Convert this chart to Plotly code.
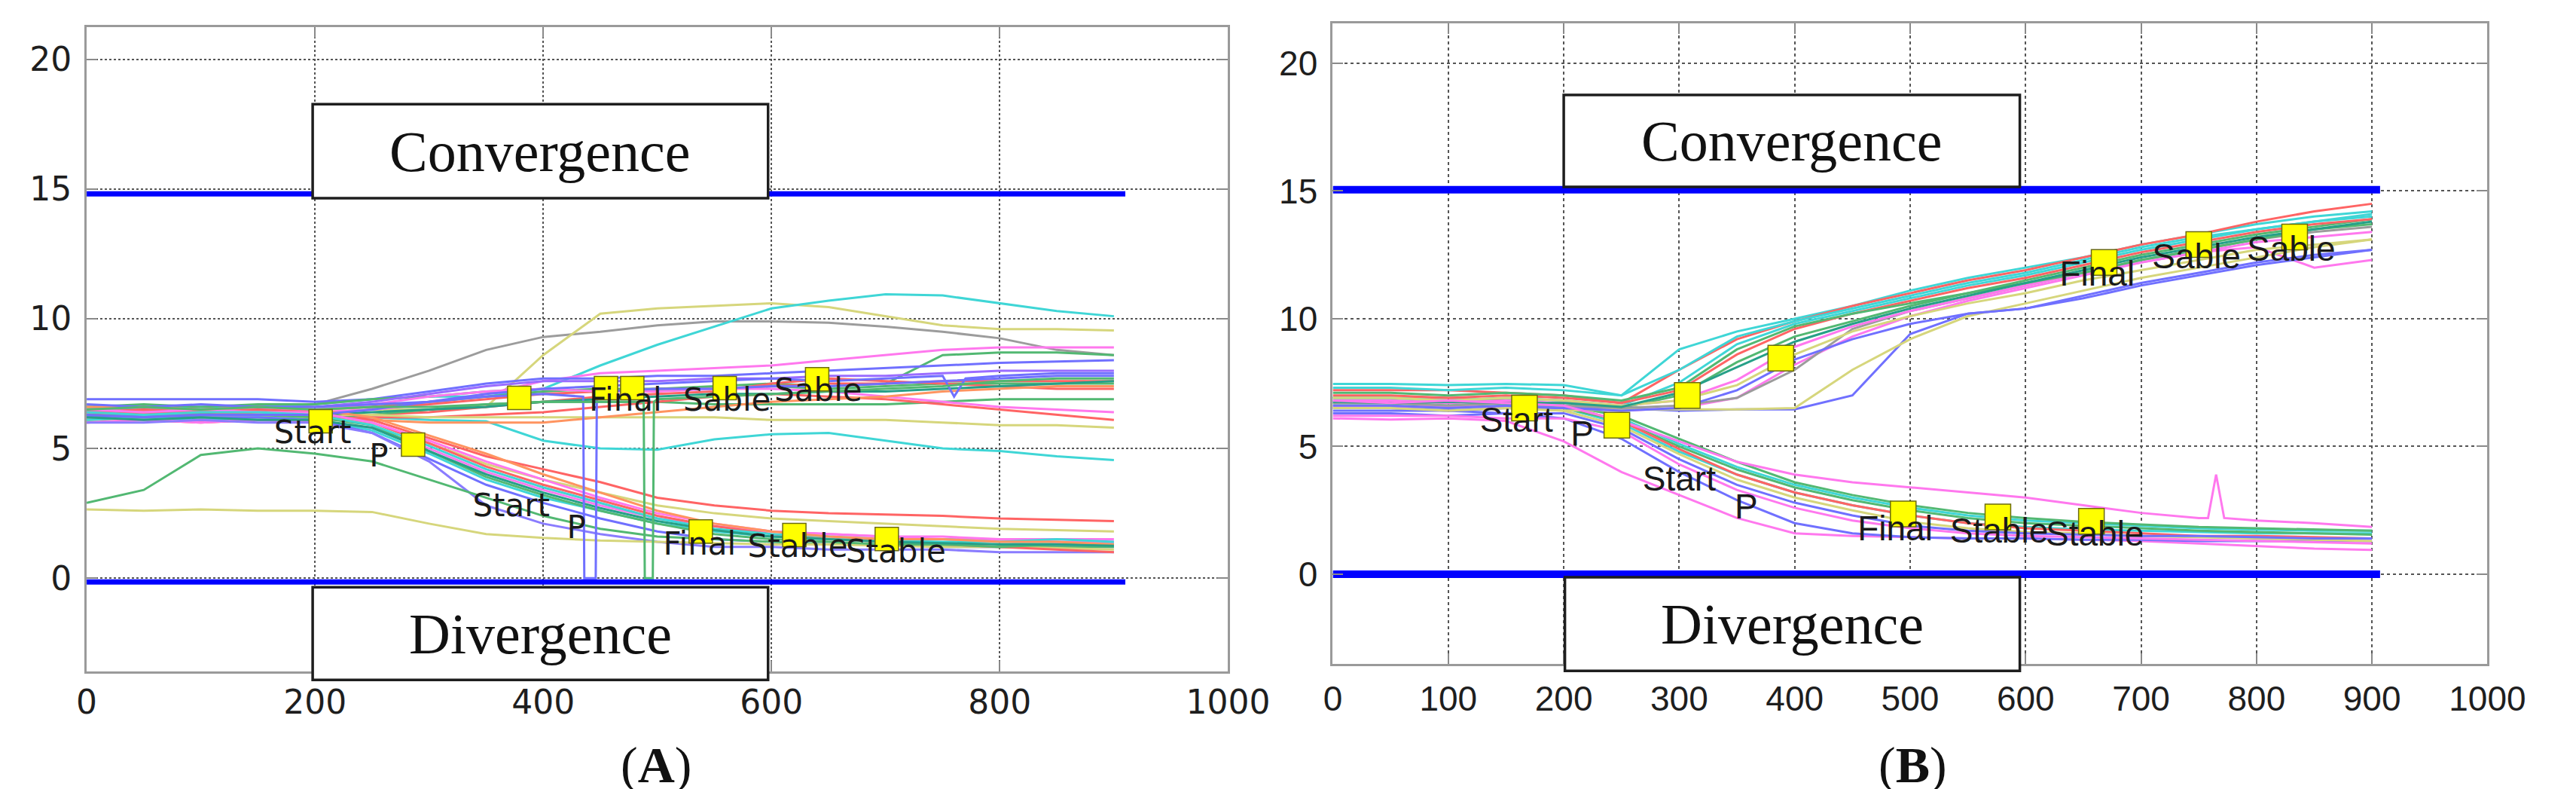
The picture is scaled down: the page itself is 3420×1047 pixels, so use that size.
import plotly.graph_objects as go

# ---------------- data: panel A ----------------
XA = [0, 50, 100, 150, 200, 250, 300, 350, 400, 450, 500, 550, 600, 650, 700, 750, 800, 850, 900]

# upper (convergence) branch, panel A
A_GRAY      = [6.5, 6.4, 6.5, 6.5, 6.7, 7.3, 8.0, 8.8, 9.3, 9.5, 9.75, 9.9, 9.9, 9.85, 9.7, 9.5, 9.25, 8.8, 8.6]
A_YEL_HI    = [6.4, 6.5, 6.4, 6.5, 6.4, 6.5, 6.5, 6.6, 8.6, 10.2, 10.4, 10.5, 10.6, 10.45, 10.1, 9.75, 9.6, 9.6, 9.55]
A_CYAN_HI   = [6.6, 6.5, 6.6, 6.6, 6.7, 6.9, 7.0, 7.0, 7.3, 8.2, 9.0, 9.7, 10.4, 10.7, 10.95, 10.9, 10.6, 10.3, 10.1]
A_CYAN_LO   = [6.2, 6.1, 6.2, 6.2, 6.1, 6.2, 6.1, 6.05, 5.3, 5.0, 4.95, 5.35, 5.55, 5.6, 5.3, 5.0, 4.9, 4.7, 4.55]
A_PINK_HI   = [6.3, 6.4, 6.3, 6.5, 6.4, 6.5, 6.7, 7.1, 7.6, 7.9, 8.0, 8.1, 8.2, 8.4, 8.6, 8.8, 8.9, 8.9, 8.9]
A_GREEN_J   = [6.4, 6.5, 6.4, 6.4, 6.5, 6.6, 6.8, 7.0, 7.2, 7.3, 7.3, 7.4, 7.5, 7.4, 7.5, 8.6, 8.7, 8.7, 8.6]
A_BLUE_TOP  = [6.9, 6.9, 6.9, 6.9, 6.8, 6.9, 7.2, 7.5, 7.7, 7.7, 7.8, 7.8, 7.9, 8.0, 8.1, 8.2, 8.3, 8.35, 8.4]
A_RED_1     = [6.5, 6.6, 6.5, 6.6, 6.5, 6.6, 6.7, 6.9, 7.1, 7.2, 7.3, 7.3, 7.4, 7.5, 7.5, 7.6, 7.6, 7.6, 7.6]
A_GREEN_2   = [6.6, 6.7, 6.6, 6.7, 6.7, 6.9, 7.0, 7.2, 7.3, 7.2, 7.3, 7.3, 7.4, 7.3, 7.4, 7.5, 7.5, 7.5, 7.5]
A_RED_2     = [6.2, 6.3, 6.2, 6.3, 6.2, 6.3, 6.4, 6.6, 6.8, 7.0, 7.1, 7.2, 7.5, 7.7, 7.6, 7.5, 7.4, 7.3, 7.3]
A_GREEN_3   = [6.1, 6.2, 6.1, 6.2, 6.2, 6.3, 6.5, 6.7, 6.8, 6.8, 6.8, 6.7, 6.7, 6.7, 6.7, 6.8, 6.9, 6.9, 6.9]
A_PINK_2    = [6.4, 6.5, 6.4, 6.5, 6.5, 6.7, 7.0, 7.2, 7.3, 7.2, 7.2, 7.3, 7.3, 7.2, 7.0, 6.8, 6.6, 6.5, 6.4]
A_RED_3     = [6.0, 6.1, 6.0, 6.1, 6.1, 6.2, 6.2, 6.3, 6.4, 6.6, 6.8, 7.0, 7.1, 7.0, 6.9, 6.7, 6.5, 6.3, 6.1]
A_YEL_LO    = [6.2, 6.3, 6.2, 6.2, 6.3, 6.3, 6.2, 6.2, 6.2, 6.2, 6.2, 6.2, 6.1, 6.1, 6.1, 6.0, 5.9, 5.9, 5.8]
A_ORANGE    = [6.1, 6.2, 6.1, 6.2, 6.1, 6.1, 6.0, 6.0, 6.0, 6.2, 6.4, 6.6, 6.8, 6.9, 7.0, 7.2, 7.3, 7.4, 7.4]
A_TEAL      = [6.3, 6.3, 6.4, 6.3, 6.3, 6.4, 6.5, 6.6, 6.8, 6.9, 7.0, 7.1, 7.1, 7.2, 7.2, 7.3, 7.4, 7.5, 7.6]
A_PURPLE_HI = [6.5, 6.6, 6.5, 6.6, 6.6, 6.8, 7.1, 7.4, 7.6, 7.6, 7.6, 7.7, 7.7, 7.8, 7.8, 7.9, 8.0, 8.0, 8.0]

A_BLUE_DIP_X = [0, 50, 100, 150, 200, 250, 300, 350, 400, 450, 500, 550, 600, 650, 700, 750, 760, 770, 800, 850, 900]
A_BLUE_DIP_Y = [6.3, 6.2, 6.3, 6.3, 6.3, 6.5, 6.8, 7.1, 7.3, 7.4, 7.5, 7.6, 7.7, 7.6, 7.7, 7.8, 7.0, 7.7, 7.8, 7.9, 7.9]
A_SPIKE_BLUE_X = [0, 50, 100, 150, 200, 250, 300, 350, 400, 435, 436, 446, 447, 450, 500, 550, 600, 650, 700, 750, 800, 850, 900]
A_SPIKE_BLUE_Y = [6.7, 6.6, 6.7, 6.6, 6.6, 6.7, 6.8, 7.0, 7.1, 7.0, 0.0, 0.0, 7.1, 7.2, 7.3, 7.3, 7.4, 7.4, 7.5, 7.6, 7.7, 7.8, 7.8]
A_SPIKE_GREEN_X = [0, 50, 100, 150, 200, 250, 300, 350, 400, 450, 488, 489, 496, 497, 500, 550, 600, 650, 700, 750, 800, 850, 900]
A_SPIKE_GREEN_Y = [6.5, 6.6, 6.5, 6.6, 6.5, 6.6, 6.6, 6.7, 6.8, 6.8, 6.8, 0.0, 0.0, 6.8, 6.9, 7.0, 7.1, 7.2, 7.3, 7.4, 7.6, 7.7, 7.7]

# lower (divergence) branch, panel A
A_L_RED    = [6.3, 6.4, 6.3, 6.4, 6.3, 6.1, 5.4, 4.7, 4.2, 3.7, 3.1, 2.8, 2.6, 2.5, 2.45, 2.4, 2.3, 2.25, 2.2]
A_L_YEL    = [6.2, 6.3, 6.2, 6.2, 6.2, 6.0, 5.2, 4.4, 3.8, 3.3, 2.8, 2.5, 2.3, 2.2, 2.1, 2.0, 1.9, 1.85, 1.8]
A_L_PINK   = [6.0, 6.1, 6.0, 6.1, 6.0, 5.8, 5.0, 4.1, 3.4, 2.8, 2.3, 2.0, 1.8, 1.7, 1.6, 1.6, 1.5, 1.5, 1.5]
A_L_CYAN   = [6.1, 6.2, 6.1, 6.2, 6.1, 5.7, 4.8, 3.8, 3.1, 2.6, 2.1, 1.8, 1.6, 1.5, 1.45, 1.4, 1.4, 1.35, 1.35]
A_L_BLUE   = [6.2, 6.3, 6.2, 6.2, 6.1, 5.6, 4.6, 3.6, 2.9, 2.3, 1.8, 1.5, 1.4, 1.3, 1.3, 1.2, 1.2, 1.2, 1.2]
A_L_PURPLE = [6.0, 6.0, 6.1, 6.0, 6.0, 5.6, 4.5, 2.8, 2.1, 1.7, 1.4, 1.2, 1.2, 1.1, 1.1, 1.1, 1.0, 1.0, 1.0]
A_L_GREEN  = [2.9, 3.4, 4.75, 5.0, 4.8, 4.5, 3.8, 3.1, 2.4, 1.9, 1.6, 1.5, 1.4, 1.3, 1.3, 1.25, 1.2, 1.2, 1.2]
A_L_YEL2   = [2.65, 2.6, 2.65, 2.6, 2.6, 2.55, 2.1, 1.7, 1.55, 1.45, 1.4, 1.35, 1.3, 1.3, 1.25, 1.2, 1.2, 1.15, 1.1]
A_L_RED2   = [6.4, 6.5, 6.4, 6.5, 6.4, 6.0, 5.2, 4.3, 3.6, 3.0, 2.4, 2.0, 1.7, 1.5, 1.4, 1.3, 1.2, 1.1, 1.0]
A_L_GREEN2 = [6.3, 6.2, 6.3, 6.3, 6.2, 5.9, 4.9, 3.9, 3.2, 2.6, 2.1, 1.7, 1.5, 1.4, 1.3, 1.3, 1.2, 1.3, 1.3]
A_L_MAG    = [6.5, 6.4, 6.5, 6.4, 6.4, 6.0, 5.3, 4.5, 3.8, 3.1, 2.5, 2.1, 1.8, 1.7, 1.6, 1.5, 1.5, 1.4, 1.4]
A_L_CYAN2  = [6.4, 6.3, 6.4, 6.4, 6.3, 5.9, 5.1, 4.2, 3.5, 2.9, 2.3, 1.9, 1.7, 1.6, 1.5, 1.5, 1.4, 1.5, 1.4]
A_L_ORANGE = [6.6, 6.6, 6.5, 6.6, 6.5, 6.2, 5.5, 4.8, 4.0, 3.3, 2.6, 2.1, 1.8, 1.6, 1.5, 1.5, 1.4, 1.4, 1.3]
A_L_TEAL   = [6.2, 6.1, 6.2, 6.1, 6.1, 5.8, 4.9, 4.0, 3.3, 2.7, 2.2, 1.85, 1.6, 1.5, 1.4, 1.35, 1.3, 1.3, 1.25]

A_LIMITS = [14.82, -0.15]          # the two blue threshold lines
A_LIMIT_X = [0, 910]

A_MARK_X = [205, 286, 379, 455, 478, 559, 640, 538, 620, 701]
A_MARK_Y = [6.05, 5.15, 6.95, 7.33, 7.33, 7.33, 7.67, 1.8, 1.66, 1.51]
A_LABELS  = ["Start", "P", "Final", "Sable", "Sable", "Start", "P", "Final", "Stable", "Stable"]
A_LABEL_X = [198, 256, 472, 561, 641, 372, 429, 537, 623, 709]
A_LABEL_Y = [5.5, 4.62, 6.75, 6.75, 7.15, 2.68, 1.86, 1.22, 1.13, 0.93]

# ---------------- data: panel B ----------------
XB = [0, 50, 100, 150, 200, 250, 300, 350, 400, 450, 500, 550, 600, 650, 700, 750, 800, 850, 900]

B_U_CYAN1  = [7.45, 7.45, 7.4, 7.45, 7.4, 7.0, 8.8, 9.5, 10.0, 10.5, 11.1, 11.6, 12.0, 12.4, 12.9, 13.3, 13.7, 14.0, 14.2]
B_U_RED1   = [7.2, 7.2, 7.2, 7.1, 7.0, 6.7, 8.0, 9.2, 9.9, 10.5, 11.0, 11.5, 11.9, 12.4, 12.9, 13.3, 13.8, 14.2, 14.5]
B_U_CYAN2  = [6.9, 6.9, 6.8, 6.9, 6.8, 6.6, 7.5, 9.0, 9.8, 10.3, 10.8, 11.3, 11.7, 12.2, 12.7, 13.1, 13.5, 13.8, 14.1]
B_U_GREEN1 = [6.7, 6.7, 6.6, 6.7, 6.6, 6.5, 7.0, 8.3, 9.3, 9.9, 10.5, 11.0, 11.5, 12.0, 12.5, 12.9, 13.3, 13.6, 13.9]
B_U_PINK1  = [6.6, 6.5, 6.6, 6.5, 6.5, 6.4, 6.5, 6.9, 8.2, 9.3, 10.1, 10.7, 11.2, 11.7, 12.2, 12.6, 12.8, 12.0, 12.3]
B_U_BLUE1  = [6.5, 6.5, 6.4, 6.5, 6.5, 6.5, 6.4, 6.45, 6.45, 7.0, 9.4, 10.2, 10.4, 10.8, 11.3, 11.7, 12.1, 12.4, 12.7]
B_U_YEL1   = [6.5, 6.5, 6.4, 6.5, 6.4, 6.45, 6.45, 6.45, 6.5, 8.0, 9.2, 10.1, 10.6, 11.1, 11.6, 12.0, 12.4, 12.8, 13.1]
B_U_GRAY   = [6.7, 6.7, 6.6, 6.7, 6.6, 6.5, 6.6, 6.9, 8.0, 9.6, 10.3, 10.8, 11.3, 11.8, 12.3, 12.7, 13.1, 13.4, 13.6]
B_U_RED2   = [7.0, 7.0, 6.9, 7.0, 6.9, 6.7, 7.2, 8.6, 9.6, 10.2, 10.7, 11.2, 11.6, 12.1, 12.6, 13.0, 13.4, 13.7, 13.9]
B_U_MAG    = [6.8, 6.8, 6.7, 6.8, 6.7, 6.6, 6.8, 7.6, 8.9, 9.7, 10.3, 10.8, 11.3, 11.8, 12.2, 12.6, 13.0, 13.2, 13.4]
B_U_BLUE2  = [6.6, 6.6, 6.5, 6.6, 6.5, 6.4, 6.5, 7.2, 8.4, 9.2, 9.8, 10.2, 10.4, 10.9, 11.4, 11.8, 12.2, 12.5, 12.7]
B_U_YEL2   = [6.9, 6.9, 6.8, 6.9, 6.8, 6.6, 6.8, 7.4, 8.6, 9.5, 10.1, 10.6, 11.0, 11.5, 11.9, 12.3, 12.7, 12.9, 13.1]
B_U_GREEN2 = [7.1, 7.1, 7.0, 7.1, 7.0, 6.8, 7.3, 8.8, 9.7, 10.2, 10.6, 11.0, 11.4, 11.8, 12.3, 12.7, 13.1, 13.5, 13.7]
B_U_CYAN3  = [7.3, 7.3, 7.2, 7.3, 7.2, 7.0, 8.0, 9.3, 9.9, 10.4, 10.9, 11.4, 11.8, 12.3, 12.8, 13.2, 13.5, 13.8, 14.0]
B_U_TEAL   = [6.75, 6.7, 6.75, 6.7, 6.7, 6.55, 7.1, 8.1, 9.1, 9.8, 10.4, 10.9, 11.4, 11.9, 12.4, 12.8, 13.2, 13.5, 13.8]

B_L_PINK1  = [6.1, 6.05, 6.1, 6.0, 5.2, 4.0, 3.1, 2.2, 1.6, 1.5, 1.45, 1.4, 1.4, 1.35, 1.3, 1.2, 1.1, 1.0, 0.95]
B_L_BLUE1  = [6.3, 6.3, 6.2, 6.3, 6.1, 5.3, 4.0, 2.9, 2.0, 1.6, 1.45, 1.4, 1.4, 1.35, 1.35, 1.3, 1.3, 1.3, 1.3]
B_L_CYAN1  = [6.7, 6.7, 6.6, 6.7, 6.5, 5.9, 4.8, 3.9, 3.2, 2.7, 2.3, 2.0, 1.85, 1.75, 1.7, 1.65, 1.6, 1.6, 1.6]
B_L_GREEN1 = [6.6, 6.6, 6.5, 6.6, 6.5, 6.0, 5.0, 4.1, 3.4, 2.9, 2.5, 2.2, 2.0, 1.9, 1.8, 1.7, 1.65, 1.6, 1.55]
B_L_RED    = [6.9, 6.9, 6.9, 6.8, 6.6, 6.0, 4.9, 3.9, 3.2, 2.7, 2.3, 2.0, 1.8, 1.7, 1.6, 1.5, 1.5, 1.45, 1.4]
B_L_YEL    = [6.5, 6.5, 6.4, 6.5, 6.4, 5.8, 4.7, 3.7, 3.0, 2.5, 2.05, 1.8, 1.65, 1.6, 1.5, 1.45, 1.4, 1.35, 1.3]
B_L_BLUE2  = [6.4, 6.4, 6.4, 6.3, 6.3, 5.7, 4.5, 3.5, 2.8, 2.3, 1.9, 1.7, 1.6, 1.55, 1.5, 1.5, 1.45, 1.4, 1.4]
B_L_CYAN2  = [6.9, 6.9, 6.8, 6.9, 6.8, 6.1, 5.1, 4.2, 3.5, 3.0, 2.6, 2.3, 2.1, 2.0, 1.9, 1.8, 1.75, 1.7, 1.7]
B_L_MAG    = [6.2, 6.2, 6.2, 6.1, 6.1, 5.6, 4.3, 3.3, 2.6, 2.1, 1.8, 1.6, 1.5, 1.45, 1.4, 1.35, 1.3, 1.25, 1.2]
B_L_GREEN2 = [6.8, 6.8, 6.7, 6.8, 6.6, 6.2, 5.3, 4.4, 3.6, 3.1, 2.7, 2.4, 2.2, 2.05, 1.95, 1.85, 1.8, 1.75, 1.7]
B_SPIKE_X = [0, 50, 100, 150, 200, 250, 300, 350, 400, 450, 500, 550, 600, 650, 700, 750, 758, 765, 772, 800, 850, 900]
B_SPIKE_Y = [6.8, 6.7, 6.8, 6.7, 6.6, 6.0, 5.2, 4.4, 3.9, 3.6, 3.4, 3.2, 3.0, 2.7, 2.4, 2.2, 2.2, 3.9, 2.2, 2.1, 2.0, 1.85]

B_LIMITS = [15.05, 0.0]
B_LIMIT_X = [0, 907]

B_MARK_X = [166, 246, 307, 388, 668, 750, 833, 494, 576, 657]
B_MARK_Y = [6.5, 5.83, 7.0, 8.46, 12.2, 12.9, 13.2, 2.36, 2.24, 2.07]
B_LABELS  = ["Start", "P", "Final", "Sable", "Sable", "Start", "P", "Final", "Stable", "Stable"]
B_LABEL_X = [159, 216, 662, 748, 830, 300, 358, 487, 577, 660]
B_LABEL_Y = [5.92, 5.38, 11.65, 12.3, 12.6, 3.61, 2.51, 1.68, 1.57, 1.45]

TICKS_A = [0, 200, 400, 600, 800, 1000]
TICKS_B = [0, 100, 200, 300, 400, 500, 600, 700, 800, 900, 1000]
TICKS_Y = [0, 5, 10, 15, 20]

# ---------------- styling ----------------
RED, PINK, BLUE, GREEN = "#ff6464", "#ff78ee", "#7070ff", "#52b872"
CYAN, YEL, GRAY, ORANGE, TEAL = "#3fd6d6", "#d6d67c", "#9c9c9c", "#ff9460", "#26a088"

A_SERIES = [
    (A_GRAY, GRAY), (A_YEL_HI, YEL), (A_CYAN_HI, CYAN), (A_CYAN_LO, CYAN), (A_PINK_HI, PINK),
    (A_GREEN_J, GREEN), (A_BLUE_TOP, BLUE), (A_RED_1, RED), (A_GREEN_2, GREEN), (A_RED_2, RED),
    (A_GREEN_3, GREEN), (A_PINK_2, PINK), (A_RED_3, RED), (A_YEL_LO, YEL), (A_ORANGE, ORANGE),
    (A_TEAL, TEAL), (A_PURPLE_HI, "#9a6cff"),
    (A_L_RED, RED), (A_L_YEL, YEL), (A_L_PINK, PINK), (A_L_CYAN, CYAN), (A_L_BLUE, BLUE),
    (A_L_PURPLE, "#8a7cff"), (A_L_GREEN, GREEN), (A_L_YEL2, YEL), (A_L_RED2, RED),
    (A_L_GREEN2, GREEN), (A_L_MAG, PINK), (A_L_CYAN2, CYAN), (A_L_ORANGE, ORANGE), (A_L_TEAL, TEAL),
]
A_SPECIAL = [(A_BLUE_DIP_X, A_BLUE_DIP_Y, BLUE), (A_SPIKE_BLUE_X, A_SPIKE_BLUE_Y, BLUE),
             (A_SPIKE_GREEN_X, A_SPIKE_GREEN_Y, GREEN)]

B_SERIES = [
    (B_L_PINK1, PINK), (B_L_BLUE1, BLUE), (B_L_CYAN1, CYAN), (B_L_GREEN1, GREEN), (B_L_RED, RED),
    (B_L_YEL, YEL), (B_L_BLUE2, BLUE), (B_L_CYAN2, CYAN), (B_L_MAG, PINK), (B_L_GREEN2, GREEN),
    (B_U_CYAN1, CYAN), (B_U_RED1, RED), (B_U_CYAN2, CYAN), (B_U_GREEN1, GREEN), (B_U_PINK1, PINK),
    (B_U_BLUE1, BLUE), (B_U_YEL1, YEL), (B_U_GRAY, GRAY), (B_U_RED2, RED), (B_U_MAG, PINK),
    (B_U_BLUE2, BLUE), (B_U_YEL2, YEL), (B_U_GREEN2, GREEN), (B_U_CYAN3, CYAN), (B_U_TEAL, TEAL),
]
B_SPECIAL = [(B_SPIKE_X, B_SPIKE_Y, PINK)]

RANGE_A = [-3.6, 21.25]
RANGE_B = [-3.51, 21.56]

fig = go.Figure()

def add_lines(series, special, xgrid, xa, ya):
    for ys, col in series:
        fig.add_trace(go.Scatter(x=xgrid, y=ys, mode="lines", xaxis=xa, yaxis=ya,
                                 line=dict(color=col, width=3), hoverinfo="skip"))
    for xs, ys, col in special:
        fig.add_trace(go.Scatter(x=xs, y=ys, mode="lines", xaxis=xa, yaxis=ya,
                                 line=dict(color=col, width=3), hoverinfo="skip"))

add_lines(A_SERIES, A_SPECIAL, XA, "x", "y")
add_lines(B_SERIES, B_SPECIAL, XB, "x2", "y2")

for lv in A_LIMITS:
    fig.add_trace(go.Scatter(x=A_LIMIT_X, y=[lv, lv], mode="lines", xaxis="x", yaxis="y",
                             line=dict(color="#0000ff", width=7)))
for lv in B_LIMITS:
    fig.add_trace(go.Scatter(x=B_LIMIT_X, y=[lv, lv], mode="lines", xaxis="x2", yaxis="y2",
                             line=dict(color="#0000ff", width=10)))

fig.add_trace(go.Scatter(x=A_MARK_X, y=A_MARK_Y, mode="markers", xaxis="x", yaxis="y",
                         marker=dict(symbol="square", size=31, color="#ffff00",
                                     line=dict(color="#6b6b10", width=1.5))))
fig.add_trace(go.Scatter(x=B_MARK_X, y=B_MARK_Y, mode="markers", xaxis="x2", yaxis="y2",
                         marker=dict(symbol="square", size=34, color="#ffff00",
                                     line=dict(color="#6b6b10", width=1.5))))
fig.add_trace(go.Scatter(x=A_LABEL_X, y=A_LABEL_Y, text=A_LABELS, mode="text", xaxis="x", yaxis="y",
                         textposition="middle center",
                         textfont=dict(family="DejaVu Sans", size=42, color="#1a1a1a")))
fig.add_trace(go.Scatter(x=B_LABEL_X, y=B_LABEL_Y, text=B_LABELS, mode="text", xaxis="x2", yaxis="y2",
                         textposition="middle center",
                         textfont=dict(family="Liberation Sans", size=46, color="#1a1a1a")))

def ydom(v, rng):
    return (v - rng[0]) / (rng[1] - rng[0])

def box(x0, x1, y0, y1, xa, ya, rng, label):
    fig.add_shape(type="rect", xref=xa, yref=ya + " domain",
                  x0=x0, x1=x1, y0=ydom(y0, rng), y1=ydom(y1, rng),
                  line=dict(color="#1e1e1e", width=3.5), fillcolor="white", layer="above")
    fig.add_annotation(x=(x0 + x1) / 2, y=(y0 + y1) / 2, xref=xa, yref=ya, text=label,
                       showarrow=False, xanchor="center", yanchor="middle",
                       font=dict(family="Liberation Serif", size=76, color="#111"))

box(198, 597, 14.65, 18.28, "x", "y", RANGE_A, "Convergence")
box(198, 597, -0.35, -3.93, "x", "y", RANGE_A, "Divergence")
box(200, 595, 15.16, 18.76, "x2", "y2", RANGE_B, "Convergence")
box(201, 595, -0.12, -3.78, "x2", "y2", RANGE_B, "Divergence")

fig.add_annotation(x=0.2535, y=0.038, xref="paper", yref="paper", text="(<b>A</b>)",
                   showarrow=False, xanchor="center", yanchor="middle",
                   font=dict(family="Liberation Serif", size=68, color="#111"))
fig.add_annotation(x=0.7515, y=0.038, xref="paper", yref="paper", text="(<b>B</b>)",
                   showarrow=False, xanchor="center", yanchor="middle",
                   font=dict(family="Liberation Serif", size=68, color="#111"))

common = dict(showline=True, mirror="ticks", linecolor="#9a9a9a", linewidth=3,
              ticks="inside", ticklen=14, tickwidth=2, tickcolor="#8a8a8a",
              showgrid=True, gridcolor="#555555", gridwidth=2, zeroline=False)

fig.update_layout(
    width=3420, height=1047, margin=dict(l=0, r=0, t=0, b=0),
    paper_bgcolor="white", plot_bgcolor="white", showlegend=False,
    xaxis=dict(domain=[0.02778, 0.48012], range=[0, 1000], tickvals=TICKS_A, griddash="dot",
               tickfont=dict(family="DejaVu Sans", size=44, color="#1e1e1e"),
               ticklabelstandoff=0, anchor="y", **common),
    yaxis=dict(domain=[0.15664, 0.97326], range=RANGE_A, tickvals=TICKS_Y, griddash="dot",
               tickfont=dict(family="DejaVu Sans", size=44, color="#1e1e1e"),
               ticklabelstandoff=8, anchor="x", **common),
    xaxis2=dict(domain=[0.52164, 0.97924], range=[0, 1000], tickvals=TICKS_B, griddash="4px,4px",
                tickfont=dict(family="Liberation Sans", size=46, color="#1e1e1e"),
                ticklabelstandoff=4, anchor="y2", **common),
    yaxis2=dict(domain=[0.16619, 0.97803], range=RANGE_B, tickvals=TICKS_Y, griddash="4px,4px",
                tickfont=dict(family="Liberation Sans", size=46, color="#1e1e1e"),
                ticklabelstandoff=8, anchor="x2", **common),
)

fig.write_html("out.html")
